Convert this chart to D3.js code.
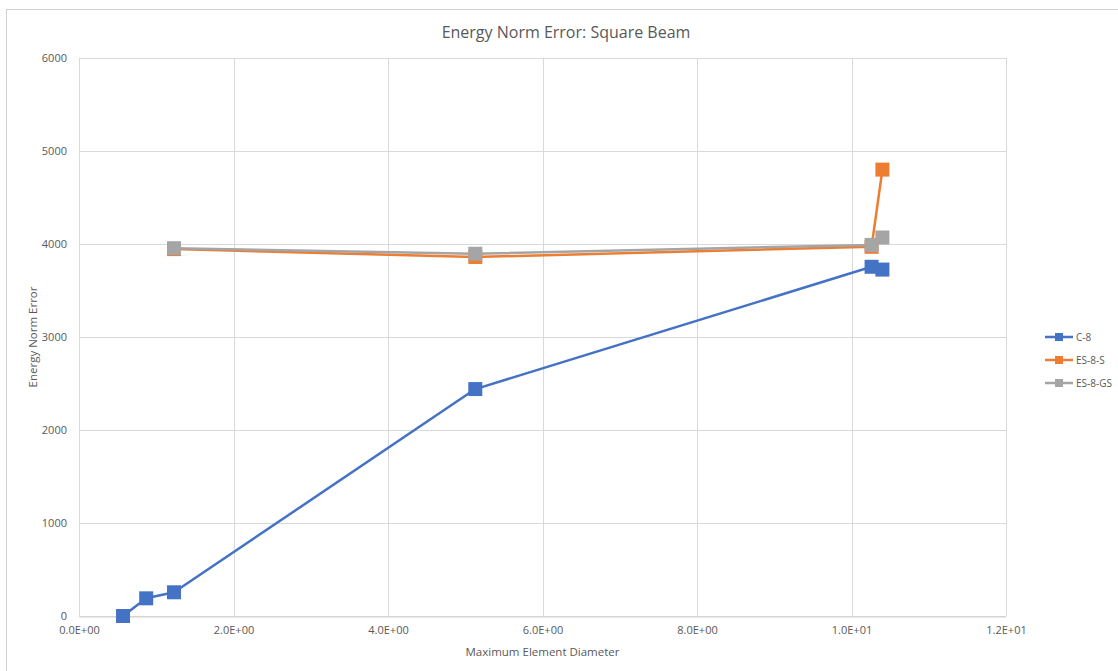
<!DOCTYPE html>
<html>
<head>
<meta charset="utf-8">
<script src="https://cdn.jsdelivr.net/npm/d3@7"></script>
<style>
  body { margin: 0; background: #fff; }
  text { font-family: "Open Sans", "Liberation Sans", sans-serif; fill: #595959; }
</style>
</head>
<body>
<div id="chart"></div>
<script>
var width = 1118, height = 671;
var margin = {top: 58, left: 79, right: 112, bottom: 55};

// data
var seriesNames = ['C-8', 'ES-8-S', 'ES-8-GS'];
var seriesColors = ['#4472c4', '#ed7d31', '#a5a5a5'];
var c8 = [[0.57, 0], [0.87, 190], [1.23, 255], [5.13, 2440], [10.26, 3755], [10.4, 3725]];
var es8s = [[1.23, 3945], [5.13, 3860], [10.26, 3970], [10.4, 4800]];
var es8gs = [[1.23, 3955], [5.13, 3895], [10.26, 3990], [10.4, 4070]];
var xTicks = [0, 2, 4, 6, 8, 10, 12];
var yTicks = [0, 1000, 2000, 3000, 4000, 5000, 6000];

var allSeries = [c8, es8s, es8gs];

var svg = d3.select("#chart").append("svg")
    .attr("width", width)
    .attr("height", height);

// outer chart border (clipped at right/bottom like the screenshot)
svg.append("rect")
    .attr("x", 6.5).attr("y", 9.5)
    .attr("width", width + 10).attr("height", height + 10)
    .attr("fill", "none").attr("stroke", "#d0d0d0");

var x = d3.scaleLinear().domain([0, 12]).range([margin.left, width - margin.right]);
var y = d3.scaleLinear().domain([0, 6000]).range([height - margin.bottom, margin.top]);

// gridlines
svg.append("g").selectAll("line.v")
    .data(xTicks).enter().append("line")
    .attr("x1", function(d) { return Math.round(x(d)) + 0.5; })
    .attr("x2", function(d) { return Math.round(x(d)) + 0.5; })
    .attr("y1", y(0)).attr("y2", y(6000))
    .attr("stroke", "#d9d9d9");

svg.append("g").selectAll("line.h")
    .data(yTicks).enter().append("line")
    .attr("x1", x(0)).attr("x2", x(12))
    .attr("y1", function(d) { return Math.round(y(d)) + 0.5; })
    .attr("y2", function(d) { return Math.round(y(d)) + 0.5; })
    .attr("stroke", "#d9d9d9");

// axes labels (no tick marks)
var xAxis = svg.append("g")
    .attr("transform", "translate(0," + (y(0) + 0.5) + ")")
    .call(d3.axisBottom(x).tickValues(xTicks).tickSize(0).tickPadding(10)
        .tickFormat(function(d) { return d3.format(".1e")(d).replace("e+", "E+0"); }));
xAxis.select(".domain").attr("stroke", "#d0d0d0");
xAxis.selectAll("text").style("font-size", "11px").attr("fill", "#595959");

var yAxis = svg.append("g")
    .attr("transform", "translate(" + x(0) + ",0)")
    .call(d3.axisLeft(y).tickValues(yTicks).tickSize(0).tickPadding(12).tickFormat(d3.format("d")));
yAxis.select(".domain").remove();
yAxis.selectAll("text").style("font-size", "11px").attr("fill", "#595959");

// series
var line = d3.line()
    .x(function(d) { return x(d[0]); })
    .y(function(d) { return y(d[1]); });

allSeries.forEach(function(s, i) {
  svg.append("path")
      .datum(s)
      .attr("fill", "none")
      .attr("stroke", seriesColors[i])
      .attr("stroke-width", 2.5)
      .attr("stroke-linejoin", "round")
      .attr("d", line);
  svg.append("g").selectAll("rect")
      .data(s).enter().append("rect")
      .attr("x", function(d) { return x(d[0]) - 7; })
      .attr("y", function(d) { return y(d[1]) - 7; })
      .attr("width", 14).attr("height", 14)
      .attr("fill", seriesColors[i]);
});

// title
svg.append("text")
    .attr("x", 566)
    .attr("y", 38)
    .attr("text-anchor", "middle")
    .style("font-size", "16px")
    .text("Energy Norm Error: Square Beam");

// axis titles
svg.append("text")
    .attr("x", (x(0) + x(12)) / 2)
    .attr("y", 656)
    .attr("text-anchor", "middle")
    .style("font-size", "11.5px")
    .text("Maximum Element Diameter");

svg.append("text")
    .attr("transform", "translate(37," + y(3000) + ") rotate(-90)")
    .attr("text-anchor", "middle")
    .style("font-size", "11.5px")
    .text("Energy Norm Error");

// legend
var legend = svg.append("g").selectAll("g")
    .data(seriesNames).enter().append("g")
    .attr("transform", function(d, i) { return "translate(1045," + (337 + i * 23) + ")"; });

legend.append("line")
    .attr("x1", 0).attr("x2", 28)
    .attr("stroke", function(d, i) { return seriesColors[i]; })
    .attr("stroke-width", 2.5);

legend.append("rect")
    .attr("x", 10).attr("y", -4)
    .attr("width", 8).attr("height", 8)
    .attr("fill", function(d, i) { return seriesColors[i]; });

legend.append("text")
    .attr("x", 31).attr("dy", "0.35em")
    .style("font-size", "10px")
    .text(function(d) { return d; });
</script>
</body>
</html>
